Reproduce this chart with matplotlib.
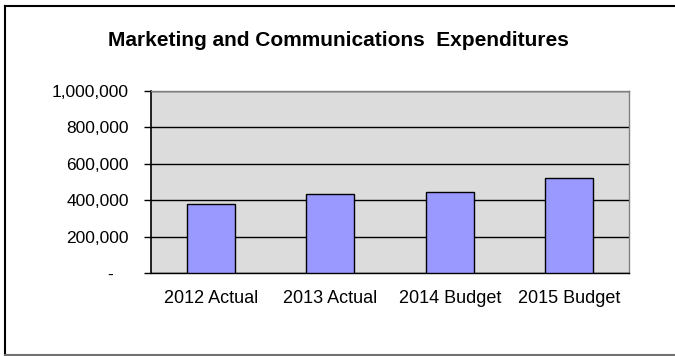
import matplotlib
matplotlib.use("Agg")
import matplotlib.pyplot as plt
from matplotlib.lines import Line2D
from matplotlib.ticker import FuncFormatter

categories = ["2012 Actual", "2013 Actual", "2014 Budget", "2015 Budget"]
expenditures = [379000, 436000, 443000, 520000]
y_ticks = [0, 200000, 400000, 600000, 800000, 1000000]

plt.rcParams["font.family"] = ["Liberation Sans", "DejaVu Sans"]

W, H = 675, 356
fig = plt.figure(figsize=(W / 100, H / 100), dpi=100)


def px(x, y):
    return x / W, 1 - y / H


# outer chart frame: dark top/left, grey bottom
for (x0, y0), (x1, y1), col in [((5.5, 5.5), (676, 5.5), "#000000"),
                                ((5.5, 5.5), (5.5, 354.5), "#000000"),
                                ((5.5, 354.5), (676, 354.5), "#707070")]:
    a, b = px(x0, y0)
    c, d = px(x1, y1)
    fig.lines.append(Line2D([a, c], [b, d], transform=fig.transFigure,
                            color=col, linewidth=1.5))

left, right, top, bottom = 151, 629, 91, 273
ax = fig.add_axes([left / W, 1 - bottom / H, (right - left) / W, (bottom - top) / H])
ax.set_facecolor("#DCDCDC")

x = range(len(categories))
ax.bar(x, expenditures, width=0.40, color="#9999FF", edgecolor="#000000",
       linewidth=1.0, zorder=3)

ax.set_xlim(-0.5, len(categories) - 0.5)
ax.set_ylim(0, 1000000)
ax.set_yticks(y_ticks)
# accounting-style labels: zero shown as a dash
ax.yaxis.set_major_formatter(FuncFormatter(lambda v, p: "-   " if v == 0 else f"{v:,.0f}"))
ax.set_xticks(list(x))
ax.set_xticklabels(categories)

ax.grid(axis="y", color="#000000", linewidth=1.0, zorder=1)
ax.set_axisbelow(True)

for side in ("top", "right"):
    ax.spines[side].set_color("#808080")
    ax.spines[side].set_linewidth(1.0)
ax.spines["left"].set_color("#000000")
ax.spines["left"].set_linewidth(1.2)
ax.spines["bottom"].set_color("#000000")
ax.spines["bottom"].set_linewidth(1.0)

ax.tick_params(axis="y", direction="out", length=5, width=1.0, labelsize=12.5,
               pad=11, colors="#000000")
ax.tick_params(axis="x", length=0, labelsize=13, pad=12)

fig.text(338.5 / W, 1 - 41 / H, "Marketing and Communications  Expenditures",
         ha="center", va="center", fontsize=15, fontweight="bold")

fig.savefig("out.png", dpi=100)
